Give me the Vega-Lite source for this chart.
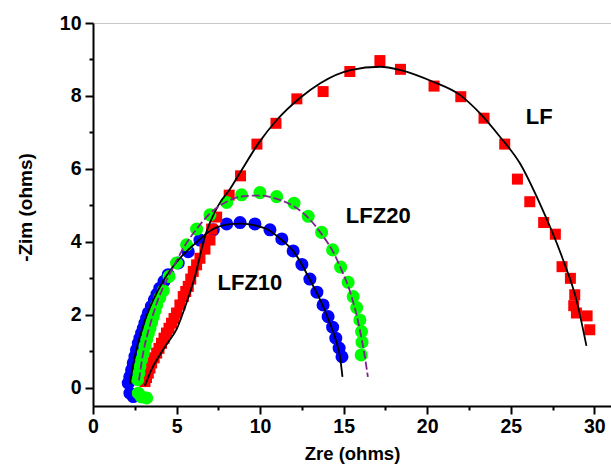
{
  "$schema": "https://vega.github.io/schema/vega-lite/v6.json",
  "autosize": "none",
  "width": 518,
  "height": 383,
  "padding": {"left": 93, "top": 23, "right": 0, "bottom": 59},
  "background": "white",
  "config": {
    "view": {"stroke": "#c8c8c8", "strokeWidth": 1},
    "font": "Liberation Sans"
  },
  "datasets": {
    "lf_pts": [
      {"x": 3.11, "y": 0.17}, {"x": 3.2, "y": 0.28}, {"x": 3.31, "y": 0.4}, {"x": 3.41, "y": 0.54}, {"x": 3.51, "y": 0.68},
      {"x": 3.66, "y": 0.82}, {"x": 3.81, "y": 0.95}, {"x": 3.95, "y": 1.08}, {"x": 4.1, "y": 1.22}, {"x": 4.25, "y": 1.36},
      {"x": 4.4, "y": 1.5}, {"x": 4.55, "y": 1.63}, {"x": 4.7, "y": 1.77}, {"x": 4.85, "y": 1.9}, {"x": 5.0, "y": 2.05},
      {"x": 5.2, "y": 2.27}, {"x": 5.4, "y": 2.5}, {"x": 5.55, "y": 2.64}, {"x": 5.7, "y": 2.78}, {"x": 5.85, "y": 2.98},
      {"x": 6.0, "y": 3.19}, {"x": 6.2, "y": 3.37}, {"x": 6.4, "y": 3.55}, {"x": 6.7, "y": 3.8},
      {"x": 7.0, "y": 4.05}, {"x": 7.1, "y": 4.35}, {"x": 7.4, "y": 4.68}, {"x": 8.15, "y": 5.28}, {"x": 8.83, "y": 5.81},
      {"x": 9.81, "y": 6.68}, {"x": 10.95, "y": 7.25}, {"x": 12.2, "y": 7.92}, {"x": 13.77, "y": 8.12},
      {"x": 15.37, "y": 8.67}, {"x": 17.17, "y": 8.97}, {"x": 18.4, "y": 8.73}, {"x": 20.41, "y": 8.27},
      {"x": 22.01, "y": 7.98}, {"x": 23.4, "y": 7.39}, {"x": 24.64, "y": 6.68}, {"x": 25.4, "y": 5.72},
      {"x": 26.14, "y": 5.1}, {"x": 26.97, "y": 4.53}, {"x": 27.67, "y": 4.21}, {"x": 28.07, "y": 3.32},
      {"x": 28.57, "y": 3.0}, {"x": 28.83, "y": 2.55}, {"x": 28.77, "y": 2.25}, {"x": 28.93, "y": 2.05},
      {"x": 29.57, "y": 1.97}, {"x": 29.73, "y": 1.59}
    ],
    "z10_pts": [
      {"x": 2.41, "y": -0.24}, {"x": 2.21, "y": -0.15}, {"x": 2.11, "y": 0.13}, {"x": 2.2, "y": 0.3},
      {"x": 2.31, "y": 0.49}, {"x": 2.41, "y": 0.68}, {"x": 2.51, "y": 0.86}, {"x": 2.6, "y": 1.04}, {"x": 2.71, "y": 1.22},
      {"x": 2.81, "y": 1.36}, {"x": 2.91, "y": 1.5}, {"x": 3.01, "y": 1.63}, {"x": 3.11, "y": 1.77}, {"x": 3.21, "y": 1.91},
      {"x": 3.31, "y": 2.05}, {"x": 3.49, "y": 2.23}, {"x": 3.67, "y": 2.41}, {"x": 3.83, "y": 2.57}, {"x": 4.0, "y": 2.73},
      {"x": 4.25, "y": 2.92}, {"x": 4.5, "y": 3.1}, {"x": 5.1, "y": 3.42}, {"x": 5.7, "y": 3.73}, {"x": 6.4, "y": 4.05},
      {"x": 7.2, "y": 4.33}, {"x": 8.0, "y": 4.49}, {"x": 8.8, "y": 4.53}, {"x": 9.69, "y": 4.49},
      {"x": 10.59, "y": 4.33}, {"x": 11.3, "y": 4.08}, {"x": 11.98, "y": 3.75}, {"x": 12.5, "y": 3.38},
      {"x": 12.98, "y": 2.98}, {"x": 13.4, "y": 2.62}, {"x": 13.77, "y": 2.27}, {"x": 14.07, "y": 1.95},
      {"x": 14.34, "y": 1.66}, {"x": 14.53, "y": 1.36}, {"x": 14.73, "y": 1.09}, {"x": 14.9, "y": 0.85}
    ],
    "z20_pts": [
      {"x": 3.21, "y": -0.28}, {"x": 2.9, "y": -0.25}, {"x": 2.71, "y": -0.15}, {"x": 2.67, "y": 0.22},
      {"x": 2.74, "y": 0.4}, {"x": 2.81, "y": 0.58}, {"x": 2.91, "y": 0.77}, {"x": 3.01, "y": 0.95}, {"x": 3.11, "y": 1.14},
      {"x": 3.21, "y": 1.32}, {"x": 3.31, "y": 1.48}, {"x": 3.41, "y": 1.63}, {"x": 3.51, "y": 1.79},
      {"x": 3.61, "y": 1.95}, {"x": 3.71, "y": 2.11}, {"x": 3.81, "y": 2.27}, {"x": 4.0, "y": 2.47}, {"x": 4.21, "y": 2.66}, {"x": 4.55, "y": 3.05},
      {"x": 5.0, "y": 3.42}, {"x": 5.6, "y": 3.92}, {"x": 6.2, "y": 4.35}, {"x": 7.0, "y": 4.74},
      {"x": 8.0, "y": 5.08}, {"x": 8.89, "y": 5.29}, {"x": 9.99, "y": 5.35}, {"x": 10.99, "y": 5.24},
      {"x": 12.03, "y": 5.06}, {"x": 12.88, "y": 4.7}, {"x": 13.68, "y": 4.26}, {"x": 14.34, "y": 3.78},
      {"x": 14.82, "y": 3.31}, {"x": 15.27, "y": 2.89}, {"x": 15.57, "y": 2.5}, {"x": 15.78, "y": 2.2},
      {"x": 15.97, "y": 1.86}, {"x": 16.07, "y": 1.54}, {"x": 16.1, "y": 1.25}, {"x": 16.05, "y": 0.9}
    ],
    "lf_fit": [
      {"x": 3.1, "y": 0.05}, {"x": 3.5, "y": 0.5}, {"x": 4.0, "y": 0.9}, {"x": 4.5, "y": 1.25},
      {"x": 5.0, "y": 1.6}, {"x": 5.5, "y": 2.2}, {"x": 6.1, "y": 3.05}, {"x": 6.7, "y": 4.15},
      {"x": 7.5, "y": 5.0}, {"x": 8.2, "y": 5.45}, {"x": 8.9, "y": 5.97}, {"x": 9.9, "y": 6.7},
      {"x": 11.0, "y": 7.34}, {"x": 12.4, "y": 7.95}, {"x": 13.6, "y": 8.35}, {"x": 15.4, "y": 8.71},
      {"x": 17.2, "y": 8.8}, {"x": 18.4, "y": 8.71}, {"x": 20.35, "y": 8.39}, {"x": 21.95, "y": 8.03},
      {"x": 23.15, "y": 7.53}, {"x": 24.34, "y": 6.89}, {"x": 25.54, "y": 6.16}, {"x": 26.73, "y": 5.06},
      {"x": 28.13, "y": 3.51}, {"x": 28.93, "y": 2.41}, {"x": 29.53, "y": 1.15}
    ],
    "z10_fit": [
      {"x": 2.2, "y": 0.1}, {"x": 2.5, "y": 0.85}, {"x": 3.0, "y": 1.7}, {"x": 3.6, "y": 2.4},
      {"x": 4.3, "y": 3.0}, {"x": 5.2, "y": 3.55}, {"x": 6.1, "y": 3.95}, {"x": 7.0, "y": 4.3},
      {"x": 8.0, "y": 4.47}, {"x": 8.9, "y": 4.5}, {"x": 9.7, "y": 4.45}, {"x": 10.6, "y": 4.3},
      {"x": 11.3, "y": 4.05}, {"x": 12.0, "y": 3.74}, {"x": 12.45, "y": 3.42}, {"x": 12.98, "y": 2.96},
      {"x": 13.45, "y": 2.55}, {"x": 13.8, "y": 2.2}, {"x": 14.15, "y": 1.8}, {"x": 14.4, "y": 1.5},
      {"x": 14.6, "y": 1.2}, {"x": 14.78, "y": 0.85}, {"x": 14.93, "y": 0.3}
    ],
    "z20_fit": [
      {"x": 2.75, "y": 0.2}, {"x": 3.0, "y": 0.95}, {"x": 3.4, "y": 1.7}, {"x": 3.8, "y": 2.3},
      {"x": 4.2, "y": 2.75}, {"x": 4.8, "y": 3.3}, {"x": 5.5, "y": 3.9}, {"x": 6.2, "y": 4.35},
      {"x": 7.0, "y": 4.78}, {"x": 8.0, "y": 5.1}, {"x": 9.0, "y": 5.25}, {"x": 10.0, "y": 5.27},
      {"x": 11.0, "y": 5.18}, {"x": 12.0, "y": 4.98}, {"x": 12.9, "y": 4.65}, {"x": 13.7, "y": 4.2},
      {"x": 14.4, "y": 3.7}, {"x": 14.9, "y": 3.2}, {"x": 15.3, "y": 2.75}, {"x": 15.6, "y": 2.3},
      {"x": 15.85, "y": 1.85}, {"x": 16.05, "y": 1.4}, {"x": 16.25, "y": 0.9}, {"x": 16.45, "y": 0.3}
    ],
    "labels": [
      {"x": 26.7, "y": 7.42, "text": "LF"},
      {"x": 17.07, "y": 4.7, "text": "LFZ20"},
      {"x": 9.39, "y": 2.88, "text": "LFZ10"}
    ]
  },
  "encoding": {
    "x": {
      "field": "x", "type": "quantitative",
      "scale": {"domain": [0, 31], "nice": false, "zero": false},
      "axis": {
        "title": "Zre (ohms)",
        "values": [0, 2.5, 5, 7.5, 10, 12.5, 15, 17.5, 20, 22.5, 25, 27.5, 30],
        "labelExpr": "datum.value % 5 === 0 ? format(datum.value, 'd') : ''",
        "labelOverlap": false,
        "labelFlush": false,
        "grid": false,
        "domainColor": "black", "domainWidth": 2,
        "tickColor": "black", "tickWidth": 2,
        "tickSize": {"condition": {"test": "datum.value % 5 !== 0", "value": 4}, "value": 8},
        "labelFont": "Liberation Sans", "labelFontWeight": "bold", "labelFontSize": 19.5, "labelColor": "black",
        "labelPadding": 3,
        "titleFont": "Liberation Sans", "titleFontWeight": "bold", "titleFontSize": 18.5, "titleColor": "black",
        "titleY": 47, "titleBaseline": "middle"
      }
    },
    "y": {
      "field": "y", "type": "quantitative",
      "scale": {"domain": [-0.5, 10], "nice": false, "zero": false},
      "axis": {
        "title": "-Zim (ohms)",
        "values": [0, 1, 2, 3, 4, 5, 6, 7, 8, 9, 10],
        "labelExpr": "datum.value % 2 === 0 ? format(datum.value, 'd') : ''",
        "labelOverlap": false,
        "labelFlush": false,
        "grid": false,
        "domainColor": "black", "domainWidth": 2,
        "tickColor": "black", "tickWidth": 2,
        "tickSize": {"condition": {"test": "datum.value % 2 !== 0", "value": 4}, "value": 8},
        "labelFont": "Liberation Sans", "labelFontWeight": "bold", "labelFontSize": 19.5, "labelColor": "black",
        "labelPadding": 4,
        "titleFont": "Liberation Sans", "titleFontWeight": "bold", "titleFontSize": 19, "titleColor": "black",
        "titleX": -68, "titleY": 184, "titleBaseline": "middle", "titleAngle": -90, "titleAlign": "center"
      }
    }
  },
  "layer": [
    {"data": {"name": "z10_pts"}, "mark": {"type": "point", "shape": "circle", "filled": true, "size": 170, "color": "#0000ff", "opacity": 1}},
    {"data": {"name": "lf_pts"}, "mark": {"type": "point", "shape": "square", "filled": true, "size": 121, "color": "#ff0000", "opacity": 1}},
    {"data": {"name": "z20_pts"}, "mark": {"type": "point", "shape": "circle", "filled": true, "size": 170, "color": "#00ff00", "opacity": 1}},
    {"data": {"name": "z10_fit"}, "mark": {"type": "line", "color": "black", "strokeWidth": 1.8, "interpolate": "monotone"}},
    {"data": {"name": "lf_fit"}, "mark": {"type": "line", "color": "black", "strokeWidth": 1.8, "interpolate": "monotone"}},
    {"data": {"name": "z20_fit"}, "mark": {"type": "line", "color": "#80208f", "strokeWidth": 1.8, "strokeDash": [8, 3], "interpolate": "monotone"}},
    {"data": {"name": "labels"}, "mark": {"type": "text", "font": "Liberation Sans", "fontWeight": "bold", "fontSize": 22, "color": "black", "align": "center", "baseline": "middle"}, "encoding": {"text": {"field": "text"}}}
  ]
}
